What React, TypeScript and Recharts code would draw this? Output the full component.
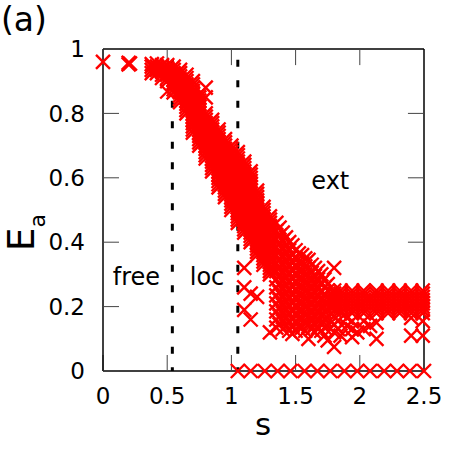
import { ScatterChart, Scatter, XAxis, YAxis, ReferenceLine, ReferenceDot } from "recharts";

type Col = [number, number[]];

// free regime: s below the first transition
const freeCols: Col[] = [
  [0, [0.96]],
  [0.2, [0.957, 0.952]],
  [0.21, [0.955]],
  [0.38, [0.953, 0.945, 0.935, 0.925]],
  [0.42, [0.955, 0.945, 0.935, 0.925]],
  [0.46, [0.95, 0.94, 0.93, 0.92, 0.91]],
  [0.5, [0.95, 0.94, 0.93, 0.92, 0.91, 0.9, 0.868]],
];

// localized regime
const locCols: Col[] = [
  [0.55, [0.945, 0.935, 0.925, 0.915, 0.905, 0.895, 0.885, 0.875, 0.865]],
  [0.6, [0.935, 0.925, 0.915, 0.905, 0.895, 0.885, 0.875, 0.865, 0.855, 0.845, 0.835]],
  [0.65, [0.92, 0.91, 0.9, 0.89, 0.88, 0.87, 0.86, 0.85, 0.84, 0.83, 0.82, 0.81, 0.8]],
  [0.7, [0.9, 0.89, 0.88, 0.87, 0.86, 0.85, 0.84, 0.83, 0.82, 0.81, 0.8, 0.79, 0.78, 0.77, 0.76, 0.75, 0.74]],
  [0.75, [0.86, 0.85, 0.84, 0.83, 0.82, 0.81, 0.8, 0.79, 0.78, 0.77, 0.76, 0.75, 0.74, 0.73, 0.72, 0.71, 0.7]],
  [0.8, [0.88, 0.85, 0.8, 0.79, 0.78, 0.77, 0.76, 0.75, 0.74, 0.73, 0.72, 0.71, 0.7, 0.69, 0.68, 0.67, 0.66]],
  [0.85, [0.78, 0.77, 0.76, 0.75, 0.74, 0.73, 0.72, 0.71, 0.7, 0.69, 0.68, 0.67, 0.66, 0.65, 0.64, 0.63, 0.62]],
  [0.9, [0.75, 0.74, 0.73, 0.72, 0.71, 0.7, 0.69, 0.68, 0.67, 0.66, 0.65, 0.64, 0.63, 0.62, 0.61, 0.6, 0.59, 0.58, 0.57]],
  [0.95, [0.72, 0.71, 0.7, 0.69, 0.68, 0.67, 0.66, 0.65, 0.64, 0.63, 0.62, 0.61, 0.6, 0.59, 0.58, 0.57, 0.56, 0.55, 0.54]],
  [1.0, [0.7, 0.69, 0.68, 0.67, 0.66, 0.65, 0.64, 0.63, 0.62, 0.61, 0.6, 0.59, 0.58, 0.57, 0.56, 0.55, 0.54, 0.53, 0.52, 0.51, 0.5]],
];

// extended regime, the falling part
const extCols: Col[] = [
  [1.05, [0.68, 0.67, 0.66, 0.65, 0.64, 0.63, 0.62, 0.61, 0.6, 0.59, 0.58, 0.57, 0.56, 0.55, 0.54, 0.53, 0.52, 0.51, 0.5, 0.49, 0.48, 0.47, 0.46]],
  [1.1, [0.65, 0.64, 0.63, 0.62, 0.61, 0.6, 0.59, 0.58, 0.57, 0.56, 0.55, 0.54, 0.53, 0.52, 0.51, 0.5, 0.49, 0.48, 0.47, 0.46, 0.45, 0.44, 0.43, 0.32, 0.26, 0.19]],
  [1.15, [0.62, 0.61, 0.6, 0.59, 0.58, 0.57, 0.56, 0.55, 0.54, 0.53, 0.52, 0.51, 0.5, 0.49, 0.48, 0.47, 0.46, 0.45, 0.44, 0.43, 0.42, 0.41, 0.4, 0.24, 0.16]],
  [1.2, [0.56, 0.55, 0.54, 0.53, 0.52, 0.51, 0.5, 0.49, 0.48, 0.47, 0.46, 0.45, 0.44, 0.43, 0.42, 0.41, 0.4, 0.39, 0.38, 0.37, 0.36, 0.23]],
  [1.25, [0.51, 0.5, 0.49, 0.48, 0.47, 0.46, 0.45, 0.44, 0.43, 0.42, 0.41, 0.4, 0.39, 0.38, 0.37, 0.36, 0.35, 0.34, 0.33]],
  [1.3, [0.48, 0.47, 0.46, 0.45, 0.44, 0.43, 0.42, 0.41, 0.4, 0.39, 0.38, 0.37, 0.36, 0.35, 0.34, 0.33, 0.32, 0.31, 0.3, 0.12]],
  [1.35, [0.46, 0.435, 0.41, 0.385, 0.36, 0.335, 0.31, 0.285, 0.26, 0.235, 0.21, 0.185, 0.16, 0.135]],
  [1.375, [0.445, 0.42, 0.395, 0.37, 0.345, 0.32, 0.295, 0.27, 0.245, 0.22, 0.195, 0.17, 0.145]],
  [1.4, [0.43, 0.405, 0.38, 0.355, 0.33, 0.305, 0.28, 0.255, 0.23, 0.205, 0.18, 0.155, 0.13]],
  [1.425, [0.415, 0.39, 0.365, 0.34, 0.315, 0.29, 0.265, 0.24, 0.215, 0.19, 0.165, 0.14]],
  [1.45, [0.4, 0.375, 0.35, 0.325, 0.3, 0.275, 0.25, 0.225, 0.2, 0.175, 0.15, 0.125]],
  [1.475, [0.39, 0.365, 0.34, 0.315, 0.29, 0.265, 0.24, 0.215, 0.19, 0.165, 0.14, 0.115]],
  [1.5, [0.375, 0.35, 0.325, 0.3, 0.275, 0.25, 0.225, 0.2, 0.175, 0.15, 0.125]],
  [1.525, [0.365, 0.34, 0.315, 0.29, 0.265, 0.24, 0.215, 0.19, 0.165, 0.14]],
  [1.55, [0.36, 0.335, 0.31, 0.285, 0.26, 0.235, 0.21, 0.185, 0.16, 0.135]],
  [1.575, [0.35, 0.325, 0.3, 0.275, 0.25, 0.225, 0.2, 0.175, 0.15, 0.125]],
  [1.6, [0.345, 0.32, 0.295, 0.27, 0.245, 0.22, 0.195, 0.17, 0.145, 0.1]],
  [1.625, [0.33, 0.305, 0.28, 0.255, 0.23, 0.205, 0.18, 0.155, 0.13]],
  [1.65, [0.32, 0.295, 0.27, 0.245, 0.22, 0.195, 0.17, 0.145, 0.12]],
  [1.675, [0.31, 0.285, 0.26, 0.235, 0.21, 0.185, 0.16, 0.135]],
  [1.7, [0.3, 0.275, 0.25, 0.225, 0.2, 0.175, 0.15, 0.125]],
  [1.725, [0.285, 0.26, 0.235, 0.21, 0.185, 0.16, 0.135, 0.11]],
  [1.75, [0.27, 0.25, 0.23, 0.21, 0.19, 0.165, 0.14, 0.095]],
];

// extended regime, the flat tail around 0.2
const tailCols: Col[] = [
  [1.8, [0.32, 0.25, 0.24, 0.23, 0.22, 0.21, 0.2, 0.19, 0.17, 0.145, 0.12, 0.075]],
  [1.83, [0.155, 0.13]],
  [1.85, [0.25, 0.24, 0.23, 0.22, 0.21, 0.2, 0.19, 0.18, 0.11]],
  [1.9, [0.165, 0.14]],
  [1.94, [0.25, 0.24, 0.23, 0.22, 0.21, 0.2, 0.19, 0.18, 0.155, 0.13, 0.105]],
  [1.98, [0.12]],
  [2.03, [0.25, 0.24, 0.23, 0.22, 0.21, 0.2, 0.19, 0.18, 0.155, 0.13]],
  [2.08, [0.14]],
  [2.13, [0.25, 0.24, 0.23, 0.22, 0.21, 0.2, 0.19, 0.18, 0.15, 0.1]],
  [2.22, [0.25, 0.24, 0.23, 0.22, 0.21, 0.2, 0.19, 0.18]],
  [2.31, [0.25, 0.24, 0.23, 0.22, 0.21, 0.2, 0.19, 0.18]],
  [2.4, [0.25, 0.24, 0.23, 0.22, 0.21, 0.2, 0.19, 0.18, 0.165, 0.11]],
  [2.49, [0.25, 0.24, 0.23, 0.22, 0.21, 0.2, 0.19, 0.18, 0.155, 0.11]],
];

// runs that end with E_a = 0
const zeroRowS = [1.05, 1.15, 1.26, 1.36, 1.46, 1.57, 1.67, 1.77, 1.88, 1.98, 2.08, 2.19, 2.29, 2.39, 2.5];

const xTicks = [0, 0.5, 1, 1.5, 2, 2.5];
const yTicks = [0, 0.2, 0.4, 0.6, 0.8, 1];
const sFreeLoc = 0.54;
const sLocExt = 1.05;

const points = [...freeCols, ...locCols, ...extCols, ...tailCols]
  .flatMap(([s, es]) => es.map((e) => ({ s, e })))
  .concat(zeroRowS.map((s) => ({ s, e: 0 })));

const RED = "#ff0000";

const Cross = (props: any) => {
  const { cx, cy } = props;
  const r = 7;
  return (
    <path
      d={`M${cx - r},${cy - r}L${cx + r},${cy + r}M${cx - r},${cy + r}L${cx + r},${cy - r}`}
      stroke={RED}
      strokeWidth={2.4}
      fill="none"
    />
  );
};

const tickStyle = { fill: "#000", fontSize: 23 };
const regionLabel = (value: string) => ({ value, position: "center" as const, fontSize: 24, fill: "#000" });

export default function App() {
  return (
    <div style={{ position: "absolute", left: 0, top: 0, width: 450, height: 450, fontFamily: "DejaVu Sans", background: "#fff" }}>
      <ScatterChart width={450} height={450} margin={{ top: 49, right: 26, bottom: 39, left: 43 }}>
        <XAxis
          type="number"
          dataKey="s"
          domain={[0, 2.5]}
          ticks={xTicks}
          height={40}
          tickSize={-16}
          tickMargin={33}
          tick={tickStyle}
          tickLine={{ stroke: "#444", strokeWidth: 1 }}
          axisLine={{ stroke: "#000", strokeWidth: 1.5 }}
        />
        <YAxis
          type="number"
          dataKey="e"
          domain={[0, 1]}
          ticks={yTicks}
          width={60}
          tickSize={-16}
          tickMargin={34}
          tick={tickStyle}
          tickLine={{ stroke: "#444", strokeWidth: 1 }}
          axisLine={{ stroke: "#000", strokeWidth: 1.5 }}
        />
        <ReferenceLine y={1} stroke="#000" strokeWidth={1.5} />
        <ReferenceLine x={2.5} stroke="#000" strokeWidth={1.5} />
        {xTicks.slice(1, -1).map((t) => (
          <ReferenceLine key={`tx${t}`} segment={[{ x: t, y: 1 }, { x: t, y: 0.95 }]} stroke="#444" strokeWidth={1} />
        ))}
        {yTicks.slice(1, -1).map((t) => (
          <ReferenceLine key={`ty${t}`} segment={[{ x: 2.5, y: t }, { x: 2.375, y: t }]} stroke="#444" strokeWidth={1} />
        ))}
        <Scatter data={points} shape={Cross} isAnimationActive={false} />
        <ReferenceLine
          segment={[{ x: sFreeLoc, y: 0.967 }, { x: sFreeLoc, y: 0 }]}
          stroke="#000"
          strokeWidth={3}
          strokeDasharray="7 13.5"
        />
        <ReferenceLine
          segment={[{ x: sLocExt, y: 0.967 }, { x: sLocExt, y: 0 }]}
          stroke="#000"
          strokeWidth={3}
          strokeDasharray="7 13.5"
        />
        <ReferenceDot x={0.26} y={0.295} r={0} fill="none" stroke="none" label={regionLabel("free")} />
        <ReferenceDot x={0.81} y={0.295} r={0} fill="none" stroke="none" label={regionLabel("loc")} />
        <ReferenceDot x={1.77} y={0.593} r={0} fill="none" stroke="none" label={regionLabel("ext")} />
      </ScatterChart>
      <svg width={450} height={450} style={{ position: "absolute", left: 0, top: 0, pointerEvents: "none" }}>
        <text x={1} y={31} fontSize={33} fill="#000">(a)</text>
        <text x={263} y={435} fontSize={31} fill="#000" textAnchor="middle">s</text>
        <text transform="translate(34,251) rotate(-90)" fontSize={37} fill="#000">
          E<tspan fontSize={22} dy={11}>a</tspan>
        </text>
      </svg>
    </div>
  );
}
